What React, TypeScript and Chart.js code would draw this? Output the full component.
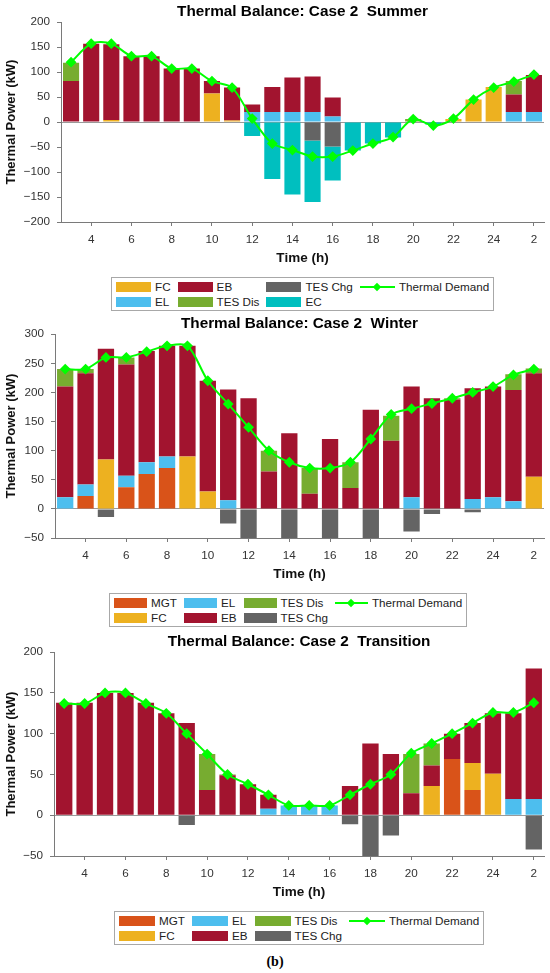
import React, { useEffect, useRef } from 'react';
import Chart from 'chart.js/auto';

Chart.defaults.font.family = "'Liberation Sans', Arial, sans-serif";

// hour of day for each bar (starts at 3, wraps after 24)
const hours = ['3', '4', '5', '6', '7', '8', '9', '10', '11', '12', '13', '14', '15', '16', '17', '18', '19', '20', '21', '22', '23', '24', '1', '2'];

// Summer
const summerFC = [0, 0, 4, 0, 0, 0, 0, 57, 3, 0, 0, 0, 0, 0, 0, 0, 0, 0, 0, 6, 45, 70, 0, 0];
const summerEL = [0, 0, 0, 0, 0, 0, 0, 0, 0, 20, 20, 20, 20, 11, 0, 0, 0, 0, 0, 0, 0, 0, 20, 20];
const summerEB = [82, 157, 152, 132, 132, 107, 107, 25, 66, 15, 50, 69, 71, 38, 1, 0, 0, 0, 0, 0, 0, 0, 35, 74];
const summerTesDis = [37, 0, 0, 0, 0, 0, 0, 0, 0, 0, 0, 0, 0, 0, 0, 0, 0, 6, 0, 0, 0, 0, 27, 0];
const summerTesChg = [0, 0, 0, 0, 0, 0, 0, 0, 0, 0, 0, 0, -37, -49, 0, 0, 0, 0, 0, 0, 0, 0, 0, 0];
const summerEC = [0, 0, 0, 0, 0, 0, 0, 0, 0, -28, -114, -145, -123, -68, -57, -43, -31, 0, -5, 0, 0, 0, 0, 0];
const summerDemand = [120, 157, 157, 132, 132, 107, 107, 82, 69, 7, -43, -56, -69, -69, -57, -43, -30, 6, -7, 7, 45, 69, 81, 95];

// Winter
const winterMGT = [0, 22, 0, 37, 60, 70, 0, 0, 0, 0, 0, 0, 0, 0, 0, 0, 0, 0, 0, 0, 0, 0, 0, 0];
const winterFC = [0, 0, 85, 0, 0, 0, 90, 30, 0, 0, 0, 0, 0, 0, 0, 0, 0, 0, 0, 0, 0, 0, 0, 55];
const winterEL = [20, 20, 0, 20, 20, 20, 0, 0, 15, 0, 0, 0, 0, 0, 0, 0, 0, 20, 0, 0, 17, 20, 13, 0];
const winterEB = [190, 191, 190, 191, 191, 190, 190, 190, 190, 190, 64, 130, 26, 120, 36, 170, 117, 190, 190, 188, 190, 190, 191, 178];
const winterTesDis = [30, 7, 0, 12, 0, 0, 0, 0, 0, 0, 36, 0, 44, 0, 44, 0, 43, 0, 0, 2, 0, 0, 27, 8];
const winterTesChg = [0, 0, -14, 0, 0, 0, 0, 0, -25, -50, 0, -50, 0, -50, 0, -50, 0, -39, -9, 0, -6, 0, 0, 0];
const winterDemand = [240, 240, 260, 260, 270, 280, 280, 220, 180, 140, 100, 80, 70, 70, 80, 120, 162, 172, 181, 190, 200, 210, 230, 240];

// Transition
const transMGT = [0, 0, 0, 0, 0, 0, 0, 0, 0, 0, 0, 0, 0, 0, 0, 0, 0, 0, 0, 69, 31, 0, 0, 0];
const transFC = [0, 0, 0, 0, 0, 0, 0, 0, 0, 0, 0, 0, 0, 0, 0, 0, 0, 0, 36, 0, 33, 51, 0, 0];
const transEL = [0, 0, 0, 0, 0, 0, 0, 0, 0, 0, 8, 12, 12, 12, 0, 0, 0, 0, 0, 0, 0, 0, 20, 20];
const transEB = [138, 138, 150, 150, 138, 125, 113, 31, 49, 38, 17, 0, 0, 0, 36, 88, 75, 27, 25, 31, 49, 74, 105, 160];
const transTesDis = [0, 0, 0, 0, 0, 0, 0, 44, 1, 0, 0, 0, 0, 0, 0, 0, 0, 48, 27, 0, 0, 0, 0, 0];
const transTesChg = [0, 0, 0, 0, 0, 0, -12, 0, 0, 0, 0, 0, 0, 0, -11, -50, -25, 0, 0, 0, 0, 0, 0, -42];
const transDemand = [137, 137, 150, 150, 137, 125, 100, 75, 50, 38, 25, 12, 12, 12, 25, 38, 50, 76, 88, 100, 113, 126, 126, 138];

const C = {
  MGT: '#D95319',
  FC: '#EDB120',
  EL: '#4DBEEE',
  EB: '#A2142F',
  TESDis: '#77AC30',
  TESChg: '#646464',
  EC: '#00BFBF',
  demand: '#00FF00',
};

const axisColor = '#7a7a7a';
const tickText = '#333';

type Series = { label: string; color: string; data: number[] };

interface ChartProps {
  title: string;
  bars: Series[];
  demand: number[];
  yMin: number;
  yMax: number;
  top: number;
  height: number;
  yWidth: number;
}

const BalanceChart = ({ title, bars, demand, yMin, yMax, top, height, yWidth }: ChartProps) => {
  const chartRef = useRef<HTMLCanvasElement | null>(null);

  useEffect(() => {
    if (!chartRef.current) return;
    const ctx = chartRef.current.getContext('2d');
    if (!ctx) return;

    const chart = new Chart(ctx, {
      type: 'bar',
      data: {
        labels: hours,
        datasets: [
          ...bars.map((s) => ({
            type: 'bar' as const,
            label: s.label,
            data: s.data,
            backgroundColor: s.color,
            borderWidth: 0,
            barPercentage: 0.8,
            categoryPercentage: 1,
            order: 1,
            stack: 'balance',
          })),
          {
            type: 'line' as const,
            label: 'Thermal Demand',
            data: demand,
            borderColor: C.demand,
            backgroundColor: C.demand,
            borderWidth: 2,
            tension: 0.3,
            pointStyle: 'rectRot',
            pointRadius: 4,
            order: 0,
            stack: 'demand',
          },
        ],
      },
      options: {
        animation: false,
        responsive: true,
        maintainAspectRatio: false,
        layout: { padding: { left: 0, right: 5, top: 0, bottom: 0 } },
        plugins: {
          legend: { display: false },
          tooltip: { enabled: false },
          title: {
            display: true,
            text: title,
            fullSize: false,
            color: '#000',
            font: { size: 15.3, weight: 'bold' },
            padding: { top: 2.3, bottom: 1.5 },
          },
        },
        scales: {
          x: {
            stacked: true,
            offset: true,
            grid: {
              offset: false,
              drawOnChartArea: false,
              drawTicks: true,
              tickLength: 4,
              tickColor: (c: any) => (Number(hours[c.index]) % 2 === 0 ? axisColor : 'transparent'),
            },
            border: { display: true, color: axisColor, width: 1 },
            ticks: {
              autoSkip: false,
              maxRotation: 0,
              padding: 7,
              color: tickText,
              font: { size: 11.7 },
              callback: (_v: any, i: number) => (Number(hours[i]) % 2 === 0 ? hours[i] : ''),
            },
            title: {
              display: true,
              text: 'Time (h)',
              color: '#111',
              font: { size: 13.5, weight: 'bold' },
              padding: { top: 0, bottom: 2 },
            },
            afterFit: (s: any) => {
              s.height = 46;
            },
          },
          y: {
            stacked: true,
            min: yMin,
            max: yMax,
            z: 1,
            grid: {
              color: (c: any) => (c.tick && c.tick.value === 0 ? '#9a9a9a' : 'transparent'),
              tickColor: axisColor,
              tickLength: 4,
              drawTicks: true,
            },
            border: { display: true, color: axisColor, width: 1 },
            ticks: {
              stepSize: 50,
              padding: 7,
              color: tickText,
              font: { size: 11.7 },
              callback: (v: any) => String(v).replace('-', '\u2212'),
            },
            title: {
              display: true,
              text: 'Thermal Power (kW)',
              color: '#111',
              font: { size: 13, weight: 'bold' },
              padding: { top: 3.2, bottom: 0 },
            },
            afterFit: (s: any) => {
              s.width = yWidth;
            },
          },
        },
      },
    } as any);

    return () => {
      chart.destroy();
    };
  }, []);

  return (
    <div style={{ position: 'absolute', left: 0, top, width: 550, height }}>
      <canvas ref={chartRef}></canvas>
    </div>
  );
};

type LegendItem = { label: string; color: string; line?: boolean };

const Legend = ({ items, left, top, swatch }: { items: LegendItem[]; left: number; top: number; swatch: number }) => (
  <div
    style={{
      position: 'absolute',
      left,
      top,
      display: 'grid',
      gridTemplateRows: 'repeat(2, 15px)',
      gridAutoFlow: 'column',
      columnGap: 7,
      padding: '1px 4px 1px 4px',
      border: '1px solid #a8a8a8',
      background: '#fff',
      fontFamily: "'Liberation Sans', Arial, sans-serif",
      fontSize: 11.7,
      color: '#222',
      lineHeight: '15px',
    }}
  >
    {items.map((it) => (
      <div key={it.label} style={{ display: 'flex', alignItems: 'center', whiteSpace: 'nowrap' }}>
        {it.line ? (
          <span style={{ position: 'relative', display: 'inline-block', width: swatch, height: 10 }}>
            <span style={{ position: 'absolute', left: 0, right: 0, top: 4, height: 2, background: it.color }} />
            <span
              style={{
                position: 'absolute',
                left: swatch / 2 - 3,
                top: 2,
                width: 6,
                height: 6,
                background: it.color,
                transform: 'rotate(45deg)',
              }}
            />
          </span>
        ) : (
          <span style={{ display: 'inline-block', width: swatch, height: 10, background: it.color }} />
        )}
        <span style={{ marginLeft: 4 }}>{it.label}</span>
      </div>
    ))}
  </div>
);

const summerBars: Series[] = [
  { label: 'FC', color: C.FC, data: summerFC },
  { label: 'EL', color: C.EL, data: summerEL },
  { label: 'EB', color: C.EB, data: summerEB },
  { label: 'TES Dis', color: C.TESDis, data: summerTesDis },
  { label: 'TES Chg', color: C.TESChg, data: summerTesChg },
  { label: 'EC', color: C.EC, data: summerEC },
];

const winterBars: Series[] = [
  { label: 'MGT', color: C.MGT, data: winterMGT },
  { label: 'FC', color: C.FC, data: winterFC },
  { label: 'EL', color: C.EL, data: winterEL },
  { label: 'EB', color: C.EB, data: winterEB },
  { label: 'TES Dis', color: C.TESDis, data: winterTesDis },
  { label: 'TES Chg', color: C.TESChg, data: winterTesChg },
];

const transBars: Series[] = [
  { label: 'MGT', color: C.MGT, data: transMGT },
  { label: 'FC', color: C.FC, data: transFC },
  { label: 'EL', color: C.EL, data: transEL },
  { label: 'EB', color: C.EB, data: transEB },
  { label: 'TES Dis', color: C.TESDis, data: transTesDis },
  { label: 'TES Chg', color: C.TESChg, data: transTesChg },
];

const legendOf = (bars: Series[]): LegendItem[] => [
  ...bars.map((b) => ({ label: b.label, color: b.color })),
  { label: 'Thermal Demand', color: C.demand, line: true },
];

export default function App() {
  return (
    <div style={{ position: 'absolute', left: 0, top: 0, width: 550, height: 973, background: '#fff' }}>
      <BalanceChart title="Thermal Balance: Case 2  Summer" bars={summerBars} demand={summerDemand} yMin={-200} yMax={200} top={0} height={268} yWidth={61} />
      <Legend items={legendOf(summerBars)} left={111} top={277} swatch={35} />
      <BalanceChart title="Thermal Balance: Case 2  Winter" bars={winterBars} demand={winterDemand} yMin={-50} yMax={300} top={312} height={272} yWidth={55} />
      <Legend items={legendOf(winterBars)} left={109} top={593} swatch={33} />
      <BalanceChart title="Thermal Balance: Case 2  Transition" bars={transBars} demand={transDemand} yMin={-50} yMax={200} top={630} height={272} yWidth={54} />
      <Legend items={legendOf(transBars)} left={114} top={911} swatch={36} />
      <div
        style={{
          position: 'absolute',
          left: 0,
          width: 550,
          top: 954,
          textAlign: 'center',
          fontFamily: "'Liberation Serif', 'Times New Roman', serif",
          fontWeight: 'bold',
          fontSize: 14,
        }}
      >
        (b)
      </div>
    </div>
  );
}
